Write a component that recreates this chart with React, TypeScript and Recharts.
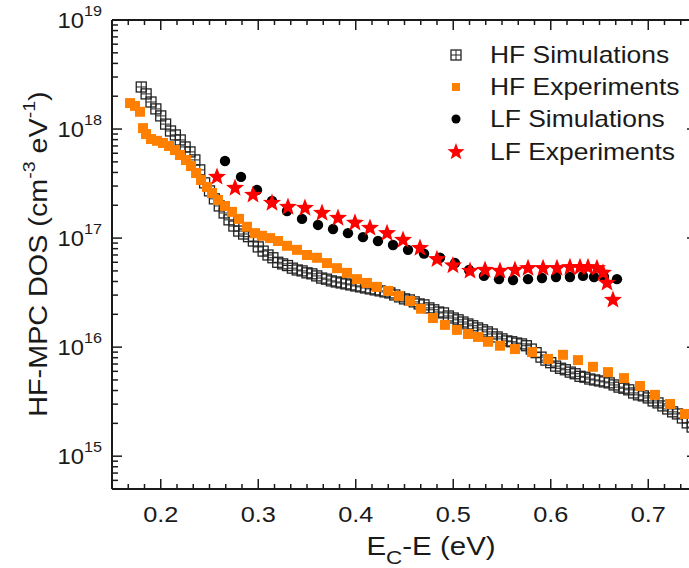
import React from 'react';
import { ScatterChart, Scatter, XAxis, YAxis } from 'recharts';

const FONT = '"Liberation Sans", Arial, Helvetica, sans-serif';
const INK = '#1a1a1a';
const SX = 1.15;

// ---------- data (E_C - E in eV, DOS in cm^-3 eV^-1) ----------
const hfSimX = [
  0.180, 0.185, 0.190, 0.195, 0.200, 0.205, 0.210, 0.215, 0.220, 0.225,
  0.230, 0.235, 0.240, 0.245, 0.250, 0.255, 0.260, 0.265, 0.270, 0.275,
  0.280, 0.285, 0.290, 0.295, 0.300, 0.305, 0.310, 0.315, 0.320, 0.325,
  0.330, 0.335, 0.340, 0.345, 0.350, 0.355, 0.360, 0.365, 0.370, 0.375,
  0.380, 0.385, 0.390, 0.395, 0.400, 0.405, 0.410, 0.415, 0.420, 0.425,
  0.430, 0.435, 0.440, 0.445, 0.450, 0.455, 0.460, 0.465, 0.470, 0.475,
  0.480, 0.485, 0.490, 0.495, 0.500, 0.505, 0.510, 0.515, 0.520, 0.525,
  0.530, 0.535, 0.540, 0.545, 0.550, 0.555, 0.560, 0.565, 0.570, 0.575,
  0.580, 0.585, 0.590, 0.595, 0.600, 0.605, 0.610, 0.615, 0.620, 0.625,
  0.630, 0.635, 0.640, 0.645, 0.650, 0.655, 0.660, 0.665, 0.670, 0.675,
  0.680, 0.685, 0.690, 0.695, 0.700, 0.705, 0.710, 0.715, 0.720, 0.725,
  0.730, 0.735, 0.740, 0.745,
];
const hfSimY = [
  2.43e18, 2.10e18, 1.77e18, 1.53e18, 1.32e18, 1.11e18, 9.6e17, 8.83e17, 7.94e17, 6.85e17,
  6.17e17, 5.21e17, 4.22e17, 3.21e17, 2.71e17, 2.29e17, 1.97e17, 1.70e17, 1.47e17, 1.29e17,
  1.16e17, 1.09e17, 1.03e17, 9.4e16, 8.3e16, 7.6e16, 7.0e16, 6.6e16, 6.0e16, 5.8e16,
  5.6e16, 5.3e16, 5.1e16, 5.0e16, 4.8e16, 4.7e16, 4.5e16, 4.3e16, 4.2e16, 4.05e16,
  3.96e16, 3.88e16, 3.80e16, 3.72e16, 3.64e16, 3.57e16, 3.49e16, 3.42e16, 3.35e16, 3.28e16,
  3.21e16, 3.14e16, 3.01e16, 2.89e16, 2.77e16, 2.71e16, 2.60e16, 2.49e16, 2.44e16, 2.29e16,
  2.20e16, 2.10e16, 2.06e16, 1.93e16, 1.85e16, 1.78e16, 1.70e16, 1.63e16, 1.57e16, 1.50e16,
  1.44e16, 1.38e16, 1.32e16, 1.24e16, 1.19e16, 1.14e16, 1.12e16, 1.09e16, 1.07e16, 1.03e16,
  9.6e15, 8.9e15, 8.1e15, 7.6e15, 7.2e15, 6.7e15, 6.4e15, 6.2e15, 5.9e15, 5.7e15,
  5.4e15, 5.3e15, 5.1e15, 5.0e15, 4.9e15, 4.8e15, 4.7e15, 4.5e15, 4.3e15, 4.2e15,
  4.06e15, 3.80e15, 3.65e15, 3.57e15, 3.42e15, 3.21e15, 3.08e15, 2.89e15, 2.71e15, 2.55e15,
  2.44e15, 2.24e15, 2.02e15, 1.85e15,
];

const hfExpX = [
  0.1685, 0.1736, 0.1787, 0.1818, 0.1849, 0.1900, 0.1962, 0.2023, 0.2085, 0.2146,
  0.2197, 0.2259, 0.2310, 0.2362, 0.2413, 0.2474, 0.2526, 0.2587, 0.2659, 0.2731,
  0.2803, 0.2885, 0.2967, 0.3038, 0.3121, 0.3203, 0.3295, 0.3397, 0.3500, 0.3603,
  0.3705, 0.3808, 0.3910, 0.4013, 0.4115, 0.4218, 0.4331, 0.4444, 0.4556, 0.4669,
  0.4792, 0.4915, 0.5038, 0.5151, 0.5254, 0.5356, 0.5479, 0.5633, 0.5808, 0.5972,
  0.6126, 0.6279, 0.6433, 0.6587, 0.6751, 0.6915, 0.7069, 0.7223, 0.7377,
];
const hfExpY = [
  1.73e18, 1.63e18, 1.44e18, 1.02e18, 9.0e17, 8.1e17, 7.8e17, 7.45e17, 6.99e17, 6.42e17,
  5.78e17, 5.20e17, 4.58e17, 3.95e17, 3.41e17, 2.94e17, 2.59e17, 2.24e17, 1.97e17, 1.74e17,
  1.50e17, 1.27e17, 1.11e17, 1.05e17, 1.00e17, 9.4e16, 8.5e16, 7.8e16, 7.0e16, 6.6e16,
  5.9e16, 5.3e16, 4.8e16, 4.2e16, 3.88e16, 3.57e16, 3.28e16, 2.95e16, 2.65e16, 2.25e16,
  1.85e16, 1.60e16, 1.44e16, 1.32e16, 1.24e16, 1.12e16, 1.03e16, 9.6e15, 9.0e15, 7.8e15,
  8.5e15, 7.6e15, 6.6e15, 5.9e15, 5.2e15, 4.4e15, 3.65e15, 3.01e15, 2.44e15,
];

const lfSimX = [
  0.2659, 0.2823, 0.2987, 0.3141, 0.3295, 0.3449, 0.3613, 0.3767, 0.3920, 0.4074,
  0.4228, 0.4382, 0.4536, 0.4700, 0.4864, 0.5018, 0.5162, 0.5315, 0.5469, 0.5613,
  0.5767, 0.5910, 0.6054, 0.6197, 0.6331, 0.6444, 0.6546, 0.6679,
];
const lfSimY = [
  5.09e17, 3.64e17, 2.76e17, 2.19e17, 1.77e17, 1.50e17, 1.32e17, 1.21e17, 1.11e17, 1.02e17,
  9.4e16, 8.65e16, 7.8e16, 7.2e16, 6.6e16, 5.9e16, 5.1e16, 4.5e16, 4.2e16, 4.13e16,
  4.2e16, 4.3e16, 4.4e16, 4.4e16, 4.5e16, 4.4e16, 4.4e16, 4.2e16,
];

const lfExpX = [
  0.2577, 0.2762, 0.2946, 0.3141, 0.3305, 0.3479, 0.3654, 0.3818, 0.3992, 0.4146,
  0.4321, 0.4485, 0.4659, 0.4833, 0.4997, 0.5172, 0.5326, 0.5479, 0.5633, 0.5767,
  0.5921, 0.6064, 0.6197, 0.6300, 0.6382, 0.6474, 0.6536, 0.6577, 0.6638,
];
const lfExpY = [
  3.64e17, 2.88e17, 2.49e17, 2.10e17, 1.93e17, 1.89e17, 1.70e17, 1.53e17, 1.38e17, 1.24e17,
  1.11e17, 9.6e16, 8.1e16, 6.4e16, 5.6e16, 5.0e16, 5.1e16, 5.0e16, 5.1e16, 5.3e16,
  5.3e16, 5.3e16, 5.4e16, 5.4e16, 5.4e16, 5.3e16, 4.8e16, 3.88e16, 2.71e16,
];

const seriesNames = ['HF Simulations', 'HF Experiments', 'LF Simulations', 'LF Experiments'];
const xMajor = [0.2, 0.3, 0.4, 0.5, 0.6, 0.7];
const xLabels = ['0.2', '0.3', '0.4', '0.5', '0.6', '0.7'];
const xDomain: [number, number] = [0.15, 0.75];
const yDomain: [number, number] = [5e14, 1e19];

// ---------- derived tables ----------
const zip = (xs: number[], ys: number[]) => xs.map((x, i) => ({ x, y: ys[i] }));
const hfSim = zip(hfSimX, hfSimY);
const hfExp = zip(hfExpX, hfExpY);
const lfSim = zip(lfSimX, lfSimY);
const lfExp = zip(lfExpX, lfExpY);

const xTicks: number[] = [];
for (let i = 0; i <= 36; i++) xTicks.push(+(0.15 + i / 60).toFixed(6));
const yTicks: number[] = [];
for (let e = 14; e <= 18; e++) {
  for (let m = 1; m <= 9; m++) {
    const v = m * Math.pow(10, e);
    if (v >= 5e14 * 0.999) yTicks.push(v);
  }
}
yTicks.push(1e19);

// ---------- ticks ----------
function XTick(props: any) {
  const { x, y, payload, side } = props;
  const v = payload.value as number;
  const k = Math.round((v - 0.15) * 60);
  const major = k % 6 === 3;
  const len = major ? 10 : 5;
  if (side === 'top') {
    return <line x1={x} x2={x} y1={y} y2={y + len} stroke={INK} strokeWidth={1.5} />;
  }
  const idx = xMajor.findIndex((m) => Math.abs(m - v) < 1e-6);
  return (
    <g>
      <line x1={x} x2={x} y1={y} y2={y - len} stroke={INK} strokeWidth={1.5} />
      {idx >= 0 && (
        <text
          transform={`translate(${x},${y + 33}) scale(${SX},1)`}
          textAnchor="middle"
          fontSize={22}
          fontFamily={FONT}
          fill={INK}
        >
          {xLabels[idx]}
        </text>
      )}
    </g>
  );
}

function YTick(props: any) {
  const { x, y, payload, side } = props;
  const v = payload.value as number;
  const e = Math.floor(Math.log10(v) + 1e-9);
  const m = v / Math.pow(10, e);
  const major = Math.abs(m - 1) < 1e-6;
  const len = major ? 10 : 6;
  if (side === 'right') {
    return <line x1={x} x2={x - len} y1={y} y2={y} stroke={INK} strokeWidth={1.5} />;
  }
  return (
    <g>
      <line x1={x} x2={x + len} y1={y} y2={y} stroke={INK} strokeWidth={1.5} />
      {major && (
        <text
          transform={`translate(${x - 10},${y + 8}) scale(1.08,1)`}
          textAnchor="end"
          fontSize={22}
          fontFamily={FONT}
          fill={INK}
        >
          10
          <tspan dy={-12} fontSize={15}>
            {e}
          </tspan>
        </text>
      )}
    </g>
  );
}

// ---------- markers ----------
const SimSquare = ({ cx, cy, s = 10 }: any) => (
  <g>
    <rect x={cx - s / 2} y={cy - s / 2} width={s} height={s} fill="none" stroke="#222" strokeWidth={1.3} />
    <line x1={cx} x2={cx} y1={cy - s / 2} y2={cy + s / 2} stroke="#222" strokeWidth={1} />
    <line x1={cx - s / 2} x2={cx + s / 2} y1={cy} y2={cy} stroke="#222" strokeWidth={1} />
  </g>
);
const ExpSquare = ({ cx, cy, s = 10 }: any) => (
  <rect x={cx - s / 2} y={cy - s / 2} width={s} height={s} fill="#ff8000" />
);
const Dot = ({ cx, cy, r = 5.2 }: any) => <circle cx={cx} cy={cy} r={r} fill="#000" />;
const Star = ({ cx, cy, R = 9.5 }: any) => {
  const r = R * 0.42;
  const pts: string[] = [];
  for (let i = 0; i < 10; i++) {
    const a = -Math.PI / 2 + (i * Math.PI) / 5;
    const rr = i % 2 === 0 ? R : r;
    pts.push(`${(cx + rr * Math.cos(a)).toFixed(2)},${(cy + rr * Math.sin(a)).toFixed(2)}`);
  }
  return <polygon points={pts.join(' ')} fill="#ff0000" />;
};

const legendY = [55, 87, 119, 152];

export default function App() {
  return (
    <div
      style={{
        position: 'fixed',
        left: 0,
        top: 0,
        width: 689,
        height: 568,
        overflow: 'hidden',
        background: '#fff',
      }}
    >
      <ScatterChart width={705} height={568} margin={{ top: 19, right: 7, bottom: 78, left: 111 }}>
        <XAxis
          xAxisId="b"
          type="number"
          dataKey="x"
          domain={xDomain}
          allowDataOverflow
          ticks={xTicks}
          interval={0}
          tickSize={0}
          tickMargin={0}
          height={1}
          tickLine={false}
          axisLine={{ stroke: INK, strokeWidth: 2 }}
          tick={(p: any) => <XTick {...p} side="bottom" />}
        />
        <XAxis
          xAxisId="t"
          orientation="top"
          type="number"
          dataKey="x"
          domain={xDomain}
          allowDataOverflow
          ticks={xTicks}
          interval={0}
          tickSize={0}
          tickMargin={0}
          height={1}
          tickLine={false}
          axisLine={{ stroke: INK, strokeWidth: 2 }}
          tick={(p: any) => <XTick {...p} side="top" />}
        />
        <YAxis
          yAxisId="l"
          type="number"
          dataKey="y"
          scale="log"
          domain={yDomain}
          allowDataOverflow
          ticks={yTicks}
          interval={0}
          tickSize={0}
          tickMargin={0}
          width={1}
          tickLine={false}
          axisLine={{ stroke: INK, strokeWidth: 2 }}
          tick={(p: any) => <YTick {...p} side="left" />}
        />
        <YAxis
          yAxisId="r"
          orientation="right"
          type="number"
          dataKey="y"
          scale="log"
          domain={yDomain}
          allowDataOverflow
          ticks={yTicks}
          interval={0}
          tickSize={0}
          tickMargin={0}
          width={1}
          tickLine={false}
          axisLine={{ stroke: INK, strokeWidth: 2 }}
          tick={(p: any) => <YTick {...p} side="right" />}
        />
        <Scatter
          name={seriesNames[0]}
          data={hfSim}
          xAxisId="b"
          yAxisId="l"
          isAnimationActive={false}
          shape={(p: any) => <SimSquare cx={p.cx} cy={p.cy} />}
        />
        <Scatter
          name={seriesNames[1]}
          data={hfExp}
          xAxisId="b"
          yAxisId="l"
          isAnimationActive={false}
          shape={(p: any) => <ExpSquare cx={p.cx} cy={p.cy} />}
        />
        <Scatter
          name={seriesNames[2]}
          data={lfSim}
          xAxisId="b"
          yAxisId="l"
          isAnimationActive={false}
          shape={(p: any) => <Dot cx={p.cx} cy={p.cy} />}
        />
        <Scatter
          name={seriesNames[3]}
          data={lfExp}
          xAxisId="b"
          yAxisId="l"
          isAnimationActive={false}
          shape={(p: any) => <Star cx={p.cx} cy={p.cy} />}
        />

        {/* legend */}
        <g>
          <SimSquare cx={456} cy={legendY[0]} s={10} />
          <ExpSquare cx={456} cy={legendY[1]} s={8} />
          <Dot cx={456} cy={legendY[2]} r={4.5} />
          <Star cx={456} cy={legendY[3]} R={9} />
          {seriesNames.map((t, i) => (
            <text
              key={t}
              transform={`translate(490,${legendY[i] + 8}) scale(${SX},1)`}
              fontSize={23}
              fontFamily={FONT}
              fill={INK}
            >
              {t}
            </text>
          ))}
        </g>

        {/* axis titles */}
        <text
          transform={`translate(431,555) scale(1.18,1)`}
          textAnchor="middle"
          fontSize={25}
          fontFamily={FONT}
          fill={INK}
        >
          E<tspan dy={9} fontSize={19}>C</tspan>
          <tspan dy={-9}>-E (eV)</tspan>
        </text>
        <text
          transform={`translate(47,254) rotate(-90) scale(${SX},1)`}
          textAnchor="middle"
          fontSize={25}
          fontFamily={FONT}
          fill={INK}
        >
          HF-MPC DOS (cm<tspan dy={-12} fontSize={17}>-3</tspan>
          <tspan dy={12}> eV</tspan>
          <tspan dy={-12} fontSize={17}>-1</tspan>
          <tspan dy={12}>)</tspan>
        </text>
      </ScatterChart>
    </div>
  );
}
